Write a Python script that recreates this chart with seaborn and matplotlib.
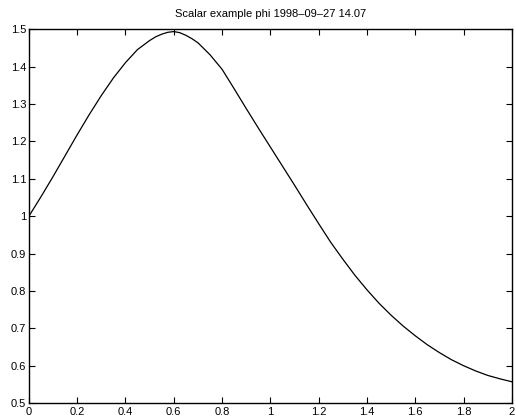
import matplotlib
matplotlib.use("Agg")
import matplotlib.pyplot as plt
import seaborn as sns
import pandas as pd

# scalar phi sampled along the interval [0, 2]
x_vals = [0.00, 0.05, 0.10, 0.15, 0.20, 0.25, 0.30, 0.35, 0.40, 0.45,
          0.50, 0.525, 0.55, 0.575, 0.60, 0.625, 0.65, 0.675, 0.70, 0.75,
          0.80, 0.85, 0.90, 0.95,
          1.00, 1.05, 1.10, 1.15, 1.20, 1.25, 1.30, 1.35, 1.40, 1.45,
          1.50, 1.55, 1.60, 1.65, 1.70, 1.75, 1.80, 1.85, 1.90, 1.95, 2.00]
phi_vals = [1.000, 1.052, 1.106, 1.162, 1.218, 1.272, 1.323, 1.370, 1.411, 1.446,
            1.470, 1.480, 1.487, 1.492, 1.494, 1.491, 1.484, 1.475, 1.464, 1.432,
            1.393, 1.341, 1.288, 1.236,
            1.185, 1.134, 1.083, 1.031, 0.980, 0.930, 0.885, 0.842, 0.803, 0.767,
            0.735, 0.706, 0.680, 0.656, 0.635, 0.616, 0.600, 0.586, 0.574, 0.565, 0.557]

x_ticks = [0, 0.2, 0.4, 0.6, 0.8, 1.0, 1.2, 1.4, 1.6, 1.8, 2.0]
x_tick_labels = ["0", "0.2", "0.4", "0.6", "0.8", "1", "1.2", "1.4", "1.6", "1.8", "2"]
y_ticks = [0.5, 0.6, 0.7, 0.8, 0.9, 1.0, 1.1, 1.2, 1.3, 1.4, 1.5]
y_tick_labels = ["0.5", "0.6", "0.7", "0.8", "0.9", "1", "1.1", "1.2", "1.3", "1.4", "1.5"]

title_text = "Scalar example phi 1998\u201309\u201327 14.07"

sns.set_theme(style="ticks")
plt.rcParams["font.family"] = ["Liberation Sans", "DejaVu Sans"]

df = pd.DataFrame({"x": x_vals, "phi": phi_vals})

fig = plt.figure(figsize=(5.16, 4.19), dpi=100)
ax = fig.add_axes([0.056, 0.038, 0.936, 0.892])

sns.lineplot(data=df, x="x", y="phi", color="black", linewidth=0.9, ax=ax)

ax.set_xlim(0, 2)
ax.set_ylim(0.5, 1.5)
ax.set_xticks(x_ticks)
ax.set_xticklabels(x_tick_labels)
ax.set_yticks(y_ticks)
ax.set_yticklabels(y_tick_labels)
ax.set_xlabel("")
ax.set_ylabel("")

for side in ["top", "right", "bottom", "left"]:
    ax.spines[side].set_visible(True)
    ax.spines[side].set_color("black")
    ax.spines[side].set_linewidth(1.0)

ax.tick_params(axis="both", direction="in", length=4, width=0.8, color="black",
               labelsize=8, labelcolor="black", top=True, right=True)
ax.tick_params(axis="y", pad=2)
ax.tick_params(axis="x", pad=2.5)

ax.set_title(title_text, fontsize=8, color="black", pad=9)

fig.savefig("out.png", dpi=100)
